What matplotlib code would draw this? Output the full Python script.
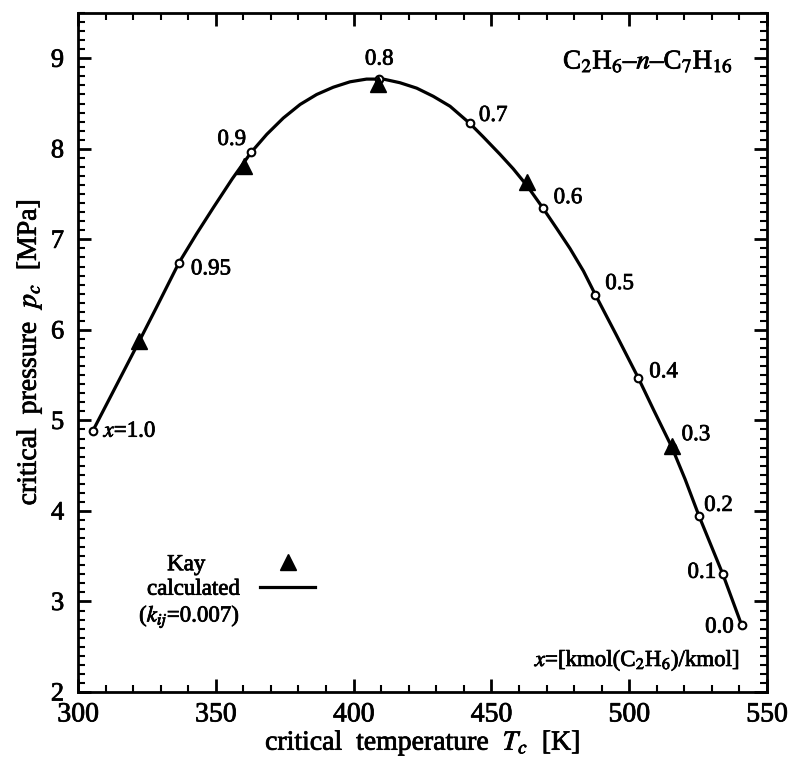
import matplotlib
matplotlib.use("Agg")
import matplotlib.pyplot as plt
import matplotlib.patheffects as pe
from matplotlib.lines import Line2D
from matplotlib.text import Text
from matplotlib.ticker import MultipleLocator

plt.rcParams["font.family"] = "serif"
plt.rcParams["font.serif"] = ["Liberation Serif", "DejaVu Serif"]
plt.rcParams["mathtext.fontset"] = "stix"

# calculated critical line (kij = 0.007)
curve_T = [305.3, 322.3, 328.5, 336.6, 343.0, 349.1, 356.0, 362.8,
           368.5, 374.5, 380.6, 386.6, 392.6, 398.7, 404.7, 410.8, 416.8, 422.9,
           428.9, 435.0, 442.2, 447.1, 453.1, 457.9, 463.0, 468.6, 473.7, 478.5,
           483.4, 487.7, 491.8, 495.4, 499.1, 503.3, 508.8, 515.4, 520.3, 525.4,
           534.0, 540.8]
curve_p = [4.88, 5.88, 6.25, 6.74, 7.06, 7.35, 7.67, 7.96,
           8.16, 8.34, 8.49, 8.60, 8.68, 8.74, 8.77, 8.77, 8.73, 8.67,
           8.58, 8.47, 8.28, 8.13, 7.94, 7.78, 7.59, 7.35, 7.12, 6.90,
           6.65, 6.39, 6.15, 5.94, 5.72, 5.47, 5.12, 4.71, 4.35, 3.94,
           3.30, 2.74]

# calculated points at fixed ethane mole fraction
calc_x = ["$x$=1.0", "0.95", "0.9", "0.8", "0.7", "0.6", "0.5", "0.4", "0.3", "0.2", "0.1", "0.0"]
calc_T = [305.3, 336.6, 362.8, 409.3, 442.2, 468.6, 487.7, 503.3, 515.4, 525.4, 534.0, 540.8]
calc_p = [4.88, 6.74, 7.96, 8.77, 8.28, 7.35, 6.39, 5.47, 4.71, 3.94, 3.30, 2.74]

# Kay's experimental critical points
kay_T = [322.3, 360.3, 409.0, 463.0, 515.4]
kay_p = [5.88, 7.81, 8.72, 7.63, 4.72]

# label offsets in pixels and alignment for each composition label
label_off = [(11, 0), (12, -6), (-5, 13), (0, 20), (9, 8), (11, 10),
             (10, 11), (11, 6), (10, 12), (5, 11), (-7, 2), (-8, -2)]
label_ha = ["left", "left", "right", "center", "left", "left",
            "left", "left", "left", "left", "right", "right"]

fig = plt.figure(figsize=(7.92, 7.65), dpi=100)
ax = fig.add_axes([0.0985, 0.0954, 0.8699, 0.8876])

ax.plot(curve_T, curve_p, color="black", lw=2.3, zorder=2)
ax.plot(calc_T, calc_p, ls="none", marker="o", ms=5.5, mfc="white", mec="black",
        mew=1.5, zorder=3)
ax.plot(kay_T, kay_p, ls="none", marker="^", ms=12, color="black", zorder=4)

for lab, t, p, off, ha in zip(calc_x, calc_T, calc_p, label_off, label_ha):
    ax.annotate(lab, (t, p), xytext=off, textcoords="offset pixels",
                ha=ha, va="center", fontsize=16.5)

ax.set_xlim(300, 550)
ax.set_ylim(2, 9.5)
ax.xaxis.set_major_locator(MultipleLocator(50))
ax.xaxis.set_minor_locator(MultipleLocator(10))
ax.yaxis.set_major_locator(MultipleLocator(1))
ax.yaxis.set_minor_locator(MultipleLocator(0.1))
ax.tick_params(which="both", direction="in", top=True, right=True)
ax.tick_params(which="major", length=9.5, width=2)
ax.tick_params(which="minor", length=4.8, width=1.5)
ax.tick_params(axis="x", labelsize=20, pad=7.5)
ax.tick_params(axis="y", labelsize=19, pad=10)
for s in ax.spines.values():
    s.set_linewidth(2)

ax.set_xlabel("critical  temperature  $T_c$  [K]", fontsize=20, labelpad=1)
ax.set_ylabel("critical  pressure  $p_c$  [MPa]", fontsize=20, labelpad=5)

ax.text(0.951, 0.928, "C$_2$H$_6$–$n$–C$_7$H$_{16}$", transform=ax.transAxes,
        ha="right", va="center", fontsize=19.5)
ax.text(0.961, 0.047, "$x$=[kmol(C$_2$H$_6$)/kmol]", transform=ax.transAxes,
        ha="right", va="center", fontsize=16.5)

handles = [
    Line2D([], [], ls="none", marker="^", ms=12, color="black"),
    Line2D([], [], color="black", lw=2.3),
    Line2D([], [], ls="none"),
]
labels = ["Kay      ", "calculated", "($k_{ij}$=0.007)"]
ax.legend(handles, labels, loc="lower left", bbox_to_anchor=(0.072, 0.075),
          frameon=False, markerfirst=False, fontsize=16.5, borderpad=0,
          labelspacing=0.15, handlelength=2.4, handletextpad=0.9)

# heavier strokes on all lettering
for t in fig.findobj(Text):
    t.set_path_effects([pe.withStroke(linewidth=0.55, foreground="black")])

fig.savefig("out.png", dpi=100)
